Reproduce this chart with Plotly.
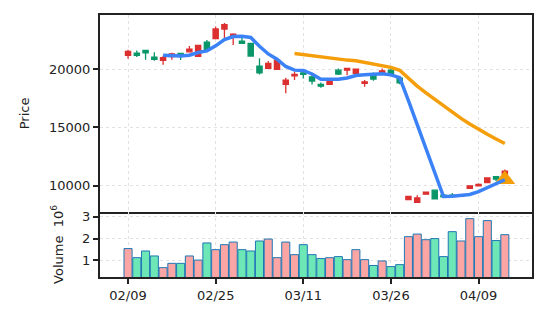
import plotly.graph_objects as go
from plotly.subplots import make_subplots
import pandas as pd

dates = ['02/09', '02/10', '02/11', '02/12', '02/16', '02/17', '02/18', '02/19', '02/22', '02/23',
         '02/25', '02/26', '03/01', '03/02', '03/03', '03/04', '03/05', '03/08', '03/09', '03/10',
         '03/11', '03/12', '03/15', '03/16', '03/17', '03/18', '03/19', '03/22', '03/23', '03/25',
         '03/26', '03/29', '03/30', '03/31', '04/01', '04/02', '04/05', '04/06', '04/07', '04/08',
         '04/09', '04/12', '04/13', '04/14']
opens = [21170, 21370, 21600, 21030, 20750, 21060, 21340, 21480, 21090, 22310,
         22600, 23430, 22770, 22400, 22200, 20260, 20060, 19980, 18690, 19430,
         19680, 19340, 18690, 18690, 19910, 19910, 19630, 18770, 19570, 19680,
         19910, 19230, 8830, 8580, 9290, 9630, 9200, 9200, 9100, 9780,
         10000, 10290, 10800, 11000]
highs = [21650, 21600, 21620, 21450, 21140, 21400, 21400, 21970, 22030, 22480,
         23650, 23940, 23060, 22700, 22250, 20920, 20690, 20920, 19260, 19770,
         19970, 19490, 18860, 19060, 20060, 20060, 20000, 19060, 19710, 20060,
         20140, 19300, 9090, 9200, 9460, 9630, 9300, 9400, 9300, 10000,
         10200, 10680, 10800, 11400]
lows = [20880, 21030, 20800, 20710, 20370, 20800, 20770, 21480, 21090, 21650,
        22600, 22660, 22060, 22200, 21100, 19540, 20060, 19980, 17920, 19060,
        19200, 18690, 18400, 18690, 19500, 19480, 19630, 18490, 19000, 19680,
        19630, 18700, 8830, 8580, 9230, 8890, 9000, 9000, 9100, 9780,
        9970, 10290, 10400, 11000]
closes = [21520, 21170, 21400, 20830, 20970, 21290, 21110, 21710, 22030, 21650,
          23430, 23800, 23000, 22200, 21110, 19680, 20490, 20770, 19060, 19550,
          19550, 18970, 18540, 19060, 19570, 20060, 20000, 18910, 19140, 19850,
          19630, 18830, 9090, 8970, 9460, 8890, 9050, 9150, 9250, 10000,
          10120, 10680, 10570, 11260]
volumes = [1540000, 1120000, 1430000, 1200000, 660000, 860000, 860000, 1200000, 1010000, 1800000,
           1490000, 1720000, 1840000, 1490000, 1430000, 1890000, 1980000, 1120000, 1840000, 1260000,
           1720000, 1260000, 1080000, 1120000, 1170000, 1030000, 1490000, 1030000, 760000, 970000,
           710000, 800000, 2090000, 2210000, 1950000, 2000000, 1170000, 2320000, 1890000, 2920000,
           2090000, 2830000, 1910000, 2180000]
tick_dates = ['02/09', '02/25', '03/11', '03/26', '04/09']
price_ticks = [10000, 15000, 20000]
volume_ticks = [1000000, 2000000, 3000000]
volume_tick_labels = ['1', '2', '3']
signal_dates = ['04/14']
signal_prices = [10550]

RED = '#dc2f2f'
GREEN = '#0b9669'
VRED = '#fca5a5'
VGREEN = '#6ee7b7'
BLUE = '#3b82f6'
ORANGE = '#f59e0b'
FONT = dict(family='DejaVu Sans', size=13, color='#222222')

s = pd.Series(closes)
ma5 = s.rolling(5).mean()
ma20 = s.rolling(20).mean()
vcolors = [VRED if c >= o else VGREEN for o, c in zip(opens, closes)]

fig = make_subplots(rows=2, cols=1, shared_xaxes=True, vertical_spacing=0,
                    row_heights=[0.7516, 0.2484])

fig.add_trace(go.Candlestick(x=dates, open=opens, high=highs, low=lows, close=closes,
                             increasing=dict(line=dict(color=RED, width=1.3), fillcolor=RED),
                             decreasing=dict(line=dict(color=GREEN, width=1.3), fillcolor=GREEN),
                             whiskerwidth=0, showlegend=False), row=1, col=1)
fig.add_trace(go.Scatter(x=signal_dates, y=signal_prices, mode='markers',
                         marker=dict(symbol='triangle-up', size=18, color=ORANGE),
                         showlegend=False), row=1, col=1)
fig.add_trace(go.Scatter(x=dates, y=ma5, mode='lines', line=dict(color=BLUE, width=3.5),
                         showlegend=False), row=1, col=1)
fig.add_trace(go.Scatter(x=dates, y=ma20, mode='lines', line=dict(color=ORANGE, width=3.5),
                         showlegend=False), row=1, col=1)
fig.add_trace(go.Bar(x=dates, y=volumes, marker=dict(color=vcolors, line=dict(color='#1f77b4', width=1)),
                     showlegend=False), row=2, col=1)

axis_common = dict(showline=True, mirror=True, linecolor='#222222', linewidth=2,
                   gridcolor='#e2e2e2', griddash='dot', gridwidth=1, zeroline=False,
                   tickcolor='#222222', tickwidth=1.5, ticklen=5, tickfont=FONT)

fig.update_xaxes(type='category', categoryorder='array', categoryarray=dates,
                 range=[-3.2, 46.1], tickmode='array', tickvals=tick_dates,
                 **axis_common)
fig.update_xaxes(showticklabels=False, ticks='', rangeslider_visible=False, row=1, col=1)
fig.update_xaxes(ticks='outside', mirror=False, row=2, col=1)
fig.update_yaxes(range=[7770, 24630], tickmode='array', tickvals=price_ticks,
                 ticktext=[str(v) for v in price_ticks], ticks='outside',
                 title=dict(text='Price', font=FONT, standoff=16),
                 row=1, col=1, **axis_common)
fig.update_yaxes(range=[230000, 3230000], tickmode='array', tickvals=volume_ticks,
                 ticktext=volume_tick_labels, ticks='outside',
                 title=dict(text='Volume  10<sup>6</sup>', font=FONT, standoff=16),
                 row=2, col=1, **axis_common)

fig.update_layout(width=546, height=322, margin=dict(l=100, r=14, t=15, b=45),
                  paper_bgcolor='white', plot_bgcolor='white', bargap=0.08, boxgap=0.15,
                  font=FONT)

fig.write_html('out.html')
